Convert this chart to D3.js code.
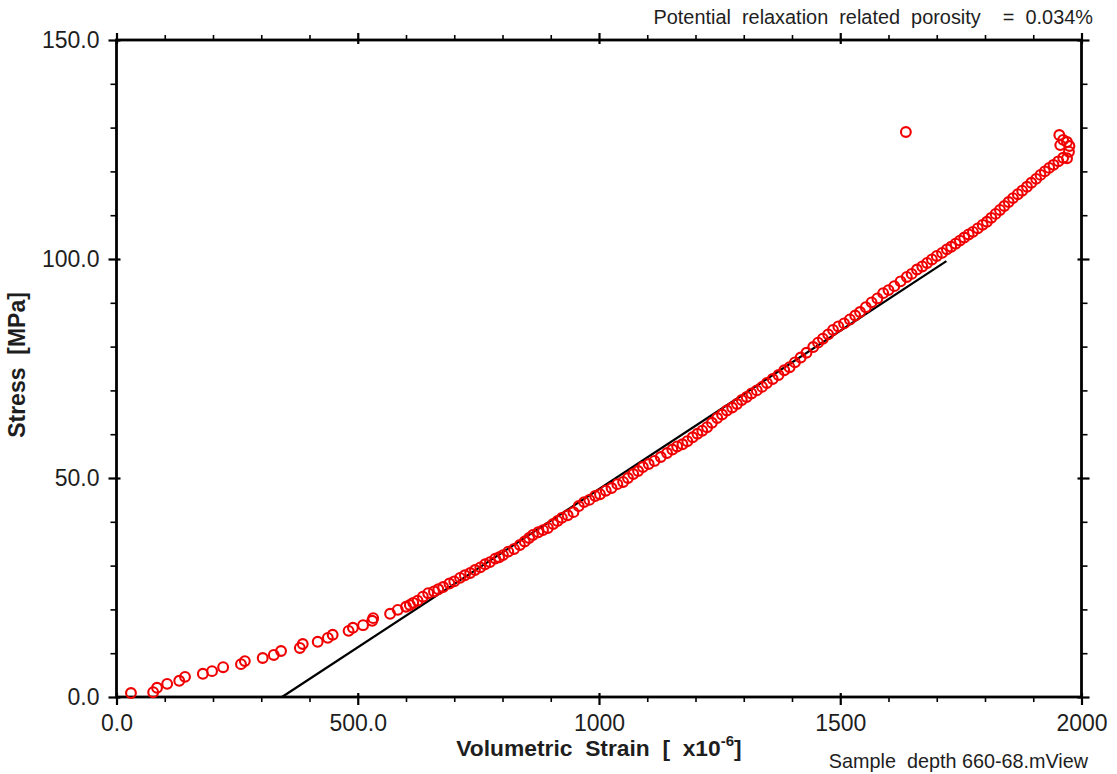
<!DOCTYPE html>
<html>
<head>
<meta charset="utf-8">
<script src="https://cdn.jsdelivr.net/npm/d3@7"></script>
<style>
  html, body { margin: 0; padding: 0; background: #fff; }
  svg { display: block; font-family: "Liberation Sans", Arial, sans-serif; }
</style>
</head>
<body>
<svg id="chart" width="1117" height="774"></svg>
<script>
// ---- data ----
const strain = [30,76,84,105,130,142,179,198,221,258,266,303,326,341,380,386,417,438,448,481,
  490,511,530,532,567,583,600,608,615,624,635,646,658,667,677,690,700,712,722,733,743,754,764,774,785,793,801,812,824,836,846,855,863,874,884,894,905,914,923,935,947,
  958,969,980,992,1002,1014,1026,1038,1050,1060,1071,1081,1091,1103,1115,1128,1141,1152,1162,1173,1183,1194,1204,1214,1224,1234,1245,1255,1265,1276,1286,1296,1306,1316,1327,1338,1348,1360,1372,1384,1395,
  1406,1418,1430,1444,1454,1464,1475,1485,1496,1508,1520,1531,1541,1553,1565,1577,1589,1600,1612,1625,1638,1648,1659,1670,1680,1690,1700,1711,1721,1730,1739,1748,1757,1766,1775,1785,1795,1804,1813,1822,1831,1840,1849,1858,1868,1877,1887,1896,1906,1915,1924,1933,1942,1952,1962,
  1970,1974,1975,1970,1962,1954,1956,1636];
const stress = [0.9,1.1,2.1,3.0,3.7,4.6,5.3,5.9,6.8,7.5,8.2,8.9,9.6,10.5,11.2,12.1,12.6,13.5,14.2,15.1,
  15.8,16.4,17.4,18.0,19.0,19.9,20.6,21.0,21.5,22.0,22.9,23.7,24.1,24.6,25.1,25.9,26.4,27.2,27.8,28.3,29.0,29.6,30.3,30.8,31.6,31.9,32.4,33.2,33.8,34.7,35.5,36.3,37.0,37.6,38.1,38.6,39.5,40.2,40.9,41.5,42.2,
  43.6,44.5,45.0,45.9,46.3,47.1,47.7,48.6,49.1,50.0,50.9,51.6,52.5,53.2,53.9,54.8,55.7,56.5,57.2,57.7,58.4,59.3,60.1,60.8,61.6,62.6,63.7,64.5,65.4,66.1,66.9,67.8,68.5,69.3,70.0,70.8,71.7,72.6,73.5,74.6,75.3,
  76.4,77.5,78.6,79.9,80.9,81.8,82.8,83.8,84.6,85.3,86.2,87.1,87.9,89.0,90.1,91.0,92.2,92.9,93.8,94.9,95.9,96.6,97.6,98.3,99.1,99.9,100.7,101.4,102.2,102.8,103.5,104.2,104.9,105.6,106.2,107.0,107.8,108.5,109.4,110.3,111.2,112.1,113.0,113.9,114.8,115.6,116.5,117.4,118.3,119.2,120.0,120.8,121.5,122.3,123.1,
  123.0,124.5,125.8,126.7,127.2,128.3,126.0,129.0];
// fitted straight line (start / end)
const fitStrain = [343, 1720];
const fitStress = [0, 99.5];

const xMajor = [0, 500, 1000, 1500, 2000];
const xTickLabels = ["0.0", "500.0", "1000", "1500", "2000"];
const yMajor = [0, 50, 100, 150];
const yTickLabels = ["0.0", "50.0", "100.0", "150.0"];
const xMinorStep = 100;
const yMinorStep = 10;

const topNote = "Potential  relaxation  related  porosity    =  0.034%";
const bottomNote = "Sample  depth 660-68.mView";

// ---- layout ----
const L = 116.5, R = 1081.5, T = 40, B = 697;
const x = d3.scaleLinear().domain([0, 2000]).range([L, R]);
const y = d3.scaleLinear().domain([0, 150]).range([B, T]);
const svg = d3.select("#chart");
const ink = "#1e1e1e";

const xMinor = d3.range(0, 2000 + 1, xMinorStep).filter(v => !xMajor.includes(v));
const yMinor = d3.range(0, 150 + 1, yMinorStep).filter(v => !yMajor.includes(v));

function styleAxis(g) {
  g.select(".domain").remove();
  g.selectAll(".tick line").attr("stroke", "#000").attr("stroke-width", 1.6);
}

// minor ticks (outward)
svg.append("g").attr("transform", `translate(0,${B})`)
  .call(d3.axisBottom(x).tickValues(xMinor).tickSize(5).tickFormat("")).call(styleAxis);
svg.append("g").attr("transform", `translate(0,${T})`)
  .call(d3.axisTop(x).tickValues(xMinor).tickSize(5).tickFormat("")).call(styleAxis);
svg.append("g").attr("transform", `translate(${L},0)`)
  .call(d3.axisLeft(y).tickValues(yMinor).tickSize(6).tickFormat("")).call(styleAxis);
svg.append("g").attr("transform", `translate(${R},0)`)
  .call(d3.axisRight(y).tickValues(yMinor).tickSize(6).tickFormat("")).call(styleAxis);

// major ticks (crossing)
const gxb = svg.append("g").attr("transform", `translate(0,${B})`)
  .call(d3.axisBottom(x).tickValues(xMajor).tickSize(8).tickPadding(10)
    .tickFormat((d, i) => xTickLabels[i])).call(styleAxis);
gxb.selectAll(".tick line").attr("y1", -4).attr("stroke-width", 2.2);
gxb.selectAll(".tick text").attr("font-size", 23).attr("fill", ink)
  .attr("font-family", "Liberation Sans, Arial, sans-serif");

const gxt = svg.append("g").attr("transform", `translate(0,${T})`)
  .call(d3.axisTop(x).tickValues(xMajor).tickSize(7).tickFormat("")).call(styleAxis);
gxt.selectAll(".tick line").attr("y1", 4).attr("stroke-width", 2.2);

const gyl = svg.append("g").attr("transform", `translate(${L},0)`)
  .call(d3.axisLeft(y).tickValues(yMajor).tickSize(8).tickPadding(9)
    .tickFormat((d, i) => yTickLabels[i])).call(styleAxis);
gyl.selectAll(".tick line").attr("x1", 4).attr("stroke-width", 2.2);
gyl.selectAll(".tick text").attr("font-size", 23).attr("fill", ink)
  .attr("font-family", "Liberation Sans, Arial, sans-serif");

const gyr = svg.append("g").attr("transform", `translate(${R},0)`)
  .call(d3.axisRight(y).tickValues(yMajor).tickSize(8).tickFormat("")).call(styleAxis);
gyr.selectAll(".tick line").attr("x1", -4).attr("stroke-width", 2.2);

// frame
svg.append("rect").attr("x", L).attr("y", T).attr("width", R - L).attr("height", B - T)
  .attr("fill", "none").attr("stroke", "#000").attr("stroke-width", 2.8);

// fit line
svg.append("line")
  .attr("x1", x(fitStrain[0])).attr("y1", y(fitStress[0]))
  .attr("x2", x(fitStrain[1])).attr("y2", y(fitStress[1]))
  .attr("stroke", "#000").attr("stroke-width", 2.2);

// data points
const pts = strain.map((s, i) => ({ s, p: stress[i] }));
svg.append("g").selectAll("circle").data(pts).join("circle")
  .attr("cx", d => x(d.s)).attr("cy", d => y(d.p)).attr("r", 4.9)
  .attr("fill", "none").attr("stroke", "#f00000").attr("stroke-width", 2.1);

// axis titles
const xt = svg.append("text").attr("x", 599).attr("y", 756).attr("text-anchor", "middle")
  .attr("font-size", 22.8).attr("font-weight", "bold").attr("fill", ink)
  .style("white-space", "pre");
xt.append("tspan").text("Volumetric  Strain  [  x10");
xt.append("tspan").attr("font-size", 15).attr("dy", -10).text("-6");
xt.append("tspan").attr("dy", 10).text("]");

svg.append("text").attr("transform", "translate(25,365) rotate(-90)")
  .attr("text-anchor", "middle").attr("font-size", 23).attr("font-weight", "bold")
  .attr("fill", ink).style("white-space", "pre").text("Stress  [MPa]");

svg.append("text").attr("x", 1093).attr("y", 24).attr("text-anchor", "end")
  .attr("font-size", 19.9).attr("fill", ink).style("white-space", "pre").text(topNote);
svg.append("text").attr("x", 1088).attr("y", 768).attr("text-anchor", "end")
  .attr("font-size", 19.8).attr("fill", ink).style("white-space", "pre").text(bottomNote);
</script>
</body>
</html>
